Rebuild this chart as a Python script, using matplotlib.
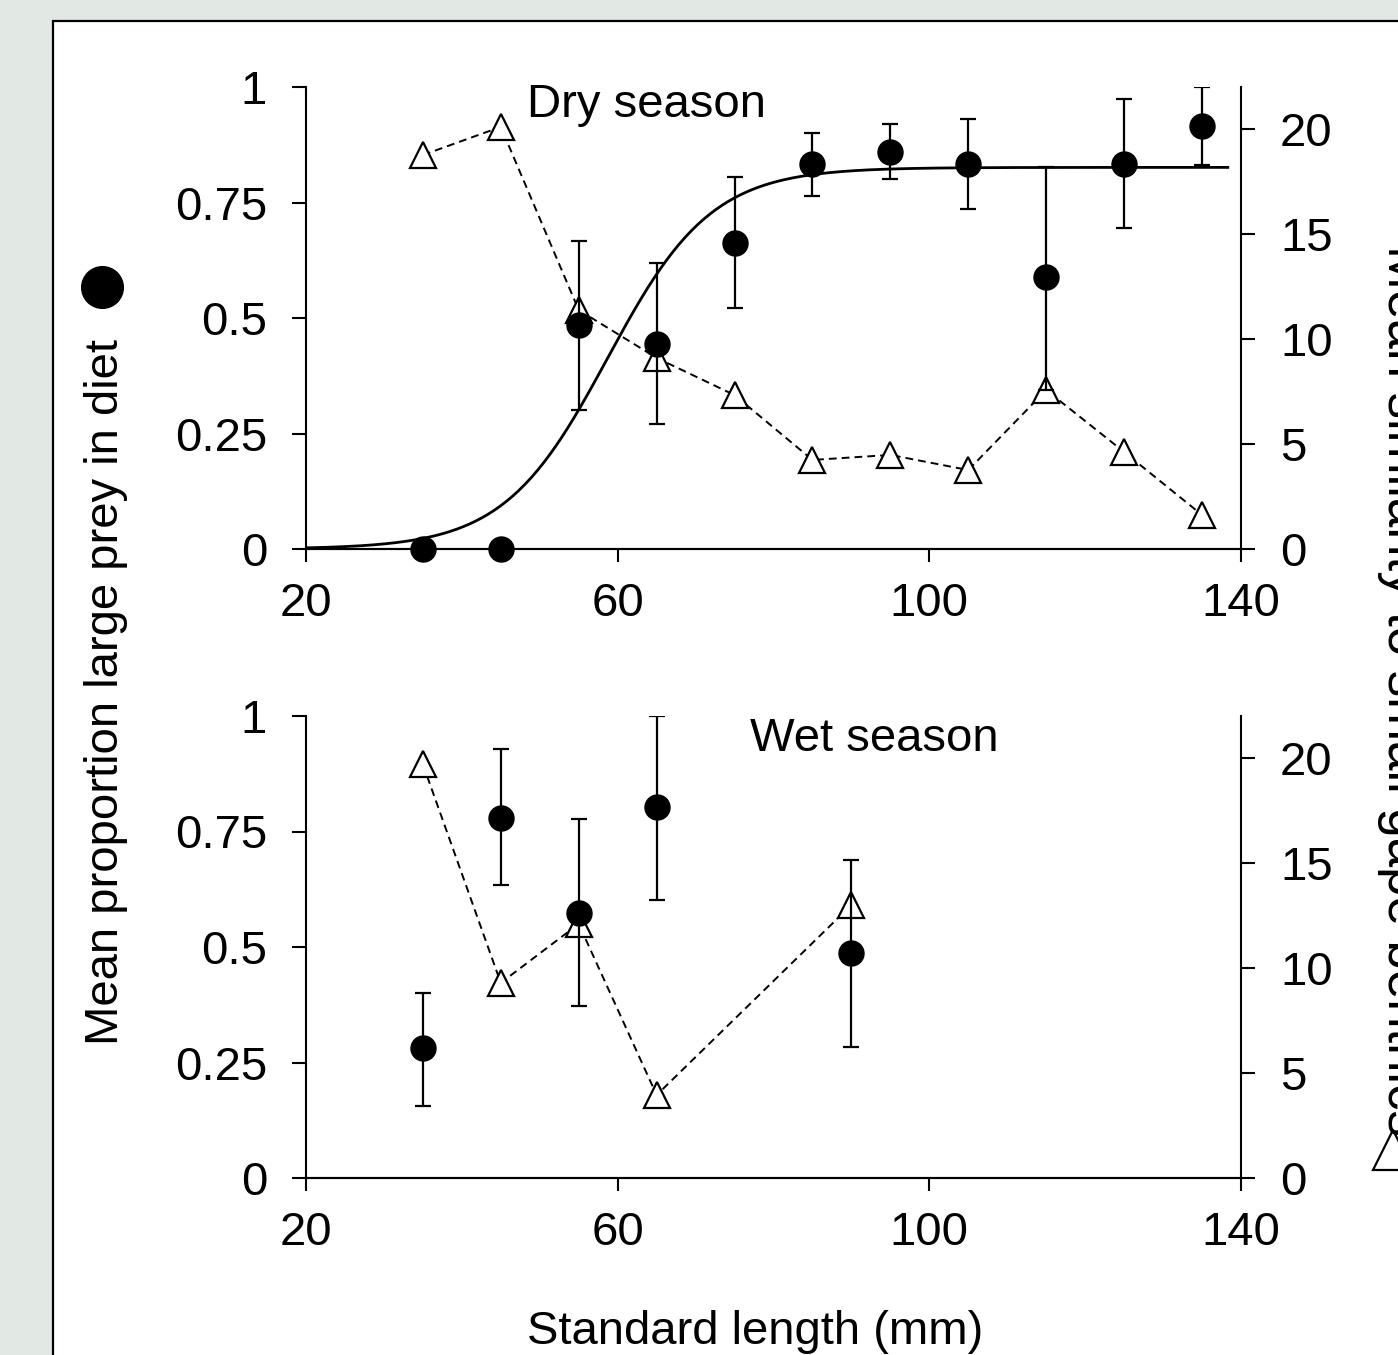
import matplotlib
matplotlib.use('Agg')
import matplotlib.pyplot as plt
import numpy as np
from matplotlib.patches import Rectangle
from matplotlib.lines import Line2D

plt.rcParams['font.family'] = ['Liberation Sans', 'DejaVu Sans']

# ---------------- data ----------------
dry_length = [35, 45, 55, 65, 75, 85, 95, 105, 115, 125, 135]
dry_prop = [0, 0, 0.485, 0.444, 0.662, 0.833, 0.859, 0.833, 0.589, 0.833, 0.915]
dry_prop_low = [None, None, 0.301, 0.271, 0.522, 0.764, 0.800, 0.736, 0.344, 0.695, 0.831]
dry_prop_high = [None, None, 0.667, 0.619, 0.805, 0.900, 0.920, 0.930, 0.827, 0.974, 1.0]
dry_similarity = [18.76, 20.1, 11.38, 9.1, 7.33, 4.24, 4.48, 3.76, 7.57, 4.62, 1.62]

wet_length = [35, 45, 55, 65, 90]
wet_prop = [0.281, 0.779, 0.573, 0.803, 0.487]
wet_prop_low = [0.156, 0.634, 0.372, 0.602, 0.284]
wet_prop_high = [0.400, 0.928, 0.777, 1.0, 0.688]
wet_similarity = [19.7, 9.29, 12.1, 3.95, 13.0]

# fitted logistic curve (dry season)
fit_asymptote = 0.826
fit_rate = 0.15
fit_midpoint = 58.7
fit_start, fit_end = 20, 138.3

x_ticks = [20, 60, 100, 140]
left_ticks = [0, 0.25, 0.5, 0.75, 1]
left_ticklabels = ['0', '0.25', '0.5', '0.75', '1']
right_ticks = [0, 5, 10, 15, 20]

# ---------------- figure ----------------
W, H = 1398, 1355
fig = plt.figure(figsize=(W / 100, H / 100), dpi=100, facecolor='#e2e8e4')
fig.patches.append(Rectangle((53 / W, -0.05), 1.2, 1.05 - 21 / H, transform=fig.transFigure,
                             facecolor='white', edgecolor='black', linewidth=1.6, zorder=-5))

FS = 34
LW = 1.5


def px_axes(left, right, top, bottom):
    return [left / W, 1 - bottom / H, (right - left) / W, (bottom - top) / H]


def panel(rect, length, prop, low, high, sim, label, label_pos, curve=False):
    ax = fig.add_axes(rect)
    ax2 = ax.twinx()
    ax2.set_zorder(1)
    ax.set_zorder(2)
    ax.patch.set_visible(False)
    ax2.patch.set_visible(False)

    # similarity (right axis)
    ax2.plot(length, sim, linestyle=(0, (4, 2.6)), color='black', linewidth=1.4,
             marker='^', markersize=19, markerfacecolor='white', markeredgecolor='black',
             markeredgewidth=1.6, zorder=2)

    # proportion (left axis)
    xe, ye, lo, hi = [], [], [], []
    for x, y, l, h in zip(length, prop, low, high):
        if l is not None:
            xe.append(x); ye.append(y); lo.append(y - l); hi.append(h - y)
    ax.errorbar(xe, ye, yerr=[lo, hi], fmt='none', ecolor='black', elinewidth=1.6,
                capsize=5.5, capthick=1.6, zorder=3)
    if curve:
        xs = np.linspace(fit_start, fit_end, 300)
        ax.plot(xs, fit_asymptote / (1 + np.exp(-fit_rate * (xs - fit_midpoint))),
                color='black', linewidth=2.0, zorder=3)
    ax.plot(length, prop, linestyle='none', marker='o', markersize=18,
            color='black', zorder=4, clip_on=False)

    for a in (ax, ax2):
        a.set_xlim(20, 140)
        a.spines['top'].set_visible(False)
        for s in a.spines.values():
            s.set_linewidth(LW)
    ax.set_ylim(0, 1)
    ax2.set_ylim(0, 22)
    ax.spines['right'].set_visible(False)
    ax2.spines['left'].set_visible(False)

    ax.set_xticks(x_ticks)
    ax.set_yticks(left_ticks)
    ax.set_yticklabels(left_ticklabels)
    ax2.set_yticks(right_ticks)
    ax.tick_params(axis='y', direction='out', length=10, width=LW, labelsize=FS, pad=18)
    ax.tick_params(axis='x', direction='out', length=9.5, width=LW, labelsize=FS, pad=14.5)
    ax2.tick_params(axis='y', direction='out', length=10, width=LW, labelsize=FS, pad=18)

    ax.text(label_pos[0], label_pos[1], label, transform=ax.transAxes, fontsize=FS,
            ha='left', va='baseline')
    return ax


panel(px_axes(306, 1241, 87, 549), dry_length, dry_prop, dry_prop_low, dry_prop_high,
      dry_similarity, 'Dry season', ((527 - 306) / 935, (549 - 117) / 462), curve=True)
panel(px_axes(306, 1241, 716, 1178), wet_length, wet_prop, wet_prop_low, wet_prop_high,
      wet_similarity, 'Wet season', ((750 - 306) / 935, (1178 - 751) / 462))

# axis labels
fig.text(755 / W, 1 - 1344 / H, 'Standard length (mm)', fontsize=FS, ha='center', va='baseline')
fig.text(118 / W, 1 - 692 / H, 'Mean proportion large prey in diet', fontsize=FS,
         rotation=90, rotation_mode='anchor', ha='center', va='baseline')
fig.add_artist(Line2D([102 / W], [1 - 287 / H], marker='o', markersize=30, color='black',
                      linestyle='none', transform=fig.transFigure))
fig.text(1388 / W, 1 - 690 / H, 'Mean similarity to small gape benthics', fontsize=38,
         rotation=-90, rotation_mode='anchor', ha='center', va='baseline')
fig.add_artist(Line2D([1393 / W], [1 - 1150 / H], marker='^', markersize=29,
                      markerfacecolor='white', markeredgecolor='black', markeredgewidth=1.6,
                      linestyle='none', transform=fig.transFigure))

fig.savefig('out.png', dpi=100, facecolor=fig.get_facecolor())
